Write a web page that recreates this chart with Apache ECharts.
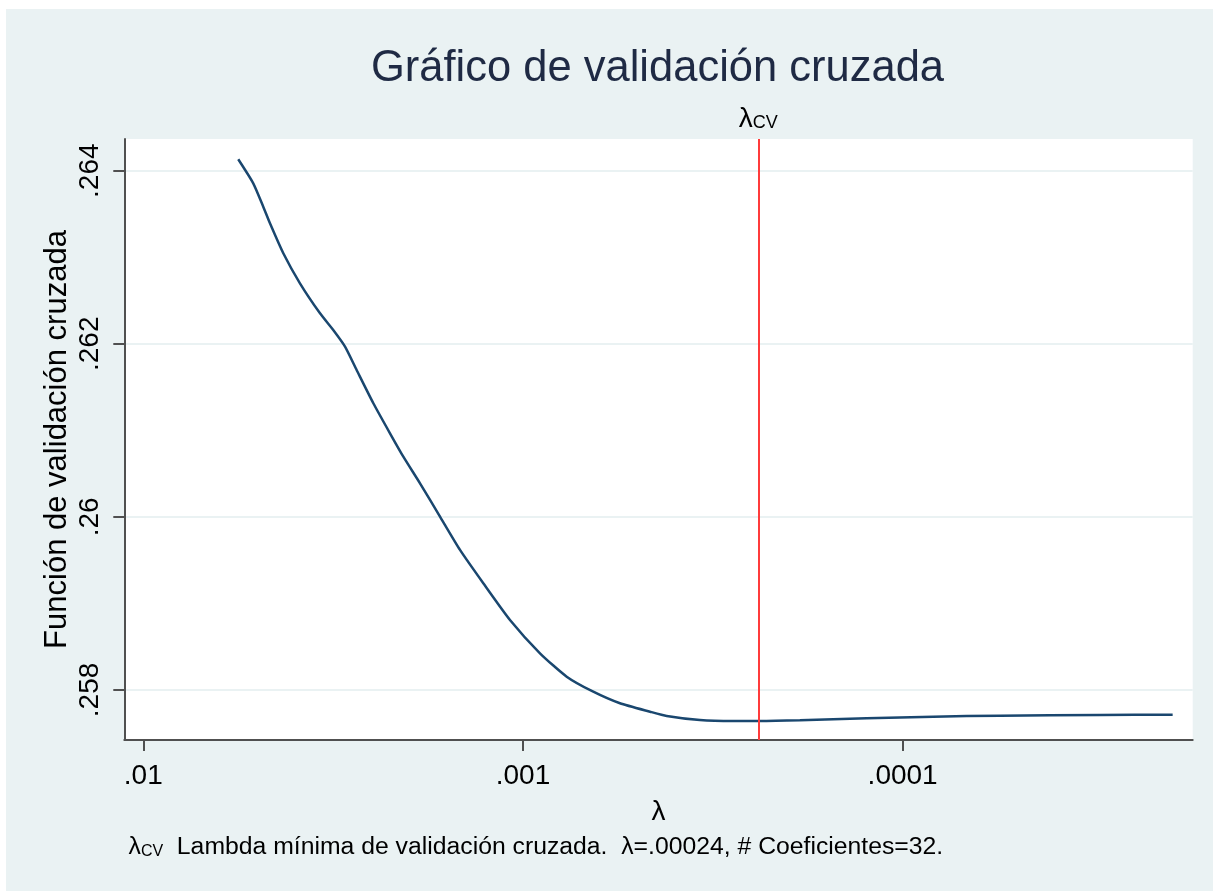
<!DOCTYPE html>
<html>
<head>
<meta charset="utf-8">
<script src="https://cdn.jsdelivr.net/npm/echarts@6/dist/echarts.min.js"></script>
<style>
  html, body { margin: 0; padding: 0; background: #ffffff; }
  #chart { position: absolute; left: 6px; top: 9px; width: 1207px; height: 882px; }
</style>
</head>
<body>
<div id="chart"></div>
<script>
// ---- data ----
const lambdas = [
  0.005622, 0.005133, 0.004831, 0.004638, 0.004278, 0.003867, 0.003424, 0.003160,
  0.002942, 0.002742, 0.002478, 0.002240, 0.002066, 0.001867, 0.001654, 0.001465,
  0.001272, 0.001082, 0.0009020, 0.0007671, 0.0006529, 0.0005553, 0.0004628, 0.0004182,
  0.0003419, 0.0002793, 0.000239, 0.0001865, 0.0001244, 0.00008305, 0.00005541, 0.00003022,
  0.00001945
];
const cvValues = [
  0.264132, 0.263854, 0.263584, 0.263392, 0.263046, 0.262699, 0.262352, 0.262159,
  0.261967, 0.261697, 0.261313, 0.260966, 0.260696, 0.260388, 0.260003, 0.259618,
  0.259233, 0.258809, 0.258424, 0.258154, 0.257980, 0.257846, 0.257749, 0.257700,
  0.257653, 0.257642, 0.257642, 0.257650, 0.257673, 0.257692, 0.257703, 0.257711,
  0.257715
];
const lambdaCV = 0.00024;
const xTickValues = [0.01, 0.001, 0.0001];
const xTickLabels = ['.01', '.001', '.0001'];
const yTickValues = [0.258, 0.26, 0.262, 0.264];
const yTickLabels = ['.258', '.26', '.262', '.264'];
const titleText = 'Gráfico de validación cruzada';
const yTitle = 'Función de validación cruzada';
const xTitle = 'λ';
const noteText = 'Lambda mínima de validación cruzada.  λ=.00024, # Coeficientes=32.';

const seriesData = lambdas.map((l, i) => [l, cvValues[i]]);
const FONT = '"Liberation Sans", Arial, sans-serif';

// plot-region layout (chart pixels)
const PLOT = { left: 118.3, top: 130, right: 20.3, bottom: 151 };
const X_MIN = 0.000017223, X_MAX = 0.01122;     // visible lambda range (reversed axis)
const CHART_W = 1207;
// pixel span per decade, so the tick axis (decades only) lines up with the data axis
const plotW = CHART_W - PLOT.left - PLOT.right;
const pxPerDec = plotW / (Math.log10(X_MAX) - Math.log10(X_MIN));
const tickMax = Math.max(...xTickValues), tickMin = Math.min(...xTickValues);
const tickLeft = PLOT.left + (Math.log10(X_MAX) - Math.log10(tickMax)) * pxPerDec;
const tickRight = PLOT.right + (Math.log10(tickMin) - Math.log10(X_MIN)) * pxPerDec;

function fmtX(v) {
  for (let i = 0; i < xTickValues.length; i++) {
    if (Math.abs(v - xTickValues[i]) / xTickValues[i] < 1e-6) return xTickLabels[i];
  }
  return '';
}
function fmtY(v) {
  for (let i = 0; i < yTickValues.length; i++) {
    if (Math.abs(v - yTickValues[i]) < 1e-9) return yTickLabels[i];
  }
  return '';
}

const chart = echarts.init(document.getElementById('chart'), null, { renderer: 'canvas' });
chart.setOption({
  backgroundColor: '#EAF2F3',
  animation: false,
  title: [
    {
      text: titleText,
      left: PLOT.left + plotW / 2 - 6,
      textAlign: 'center',
      top: 33,
      textStyle: { fontFamily: FONT, fontSize: 43.5, fontWeight: 'normal', color: '#1f2a44' }
    },
    {
      text: '{l|λ}{s|CV}{t|  ' + noteText + '}',
      left: 117.5,
      top: 821,
      textStyle: {
        fontFamily: FONT,
        fontWeight: 'normal',
        rich: {
          l: { fontFamily: FONT, fontSize: 24.75, fontWeight: 'normal', color: '#000' },
          s: { fontFamily: FONT, fontSize: 16, fontWeight: 'normal', color: '#000', padding: [8, 0, 0, 0] },
          t: { fontFamily: FONT, fontSize: 24.75, fontWeight: 'normal', color: '#000' }
        }
      }
    }
  ],
  grid: [
    { left: PLOT.left, top: PLOT.top, right: PLOT.right, bottom: PLOT.bottom, containLabel: false, show: true, backgroundColor: '#ffffff', borderWidth: 0 },
    { left: tickLeft, top: PLOT.top, right: tickRight, bottom: PLOT.bottom, containLabel: false, show: false }
  ],
  xAxis: [
    {
      gridIndex: 0,
      type: 'log',
      logBase: 10,
      inverse: true,
      min: X_MIN,
      max: X_MAX,
      name: xTitle,
      nameLocation: 'middle',
      nameGap: 58,
      nameMoveOverlap: false,
      nameTextStyle: { fontFamily: FONT, fontSize: 28, color: '#000' },
      axisLine: { show: true, lineStyle: { color: '#505050', width: 2 } },
      axisTick: { show: false },
      axisLabel: { show: false },
      splitLine: { show: false },
      minorTick: { show: false }
    },
    {
      gridIndex: 1,
      type: 'log',
      logBase: 10,
      inverse: true,
      min: tickMin,
      max: tickMax,
      axisLine: { show: false },
      axisTick: { show: true, length: 11, lineStyle: { color: '#505050', width: 2 } },
      axisLabel: { fontFamily: FONT, fontSize: 28, color: '#000', margin: 22, formatter: fmtX },
      splitLine: { show: false },
      minorTick: { show: false }
    }
  ],
  yAxis: [
    {
      gridIndex: 0,
      type: 'value',
      min: 0.257422,
      max: 0.264366,
      name: yTitle,
      nameLocation: 'middle',
      nameRotate: 90,
      nameGap: 51,
      nameMoveOverlap: false,
      nameTextStyle: { fontFamily: FONT, fontSize: 31, color: '#000' },
      axisLine: { show: true, lineStyle: { color: '#505050', width: 2 } },
      axisTick: { show: true, length: 11, lineStyle: { color: '#505050', width: 2 }, customValues: yTickValues },
      axisLabel: { fontFamily: FONT, fontSize: 28, color: '#000', margin: 20, rotate: 90, formatter: fmtY, customValues: yTickValues },
      splitLine: { show: true, lineStyle: { color: '#EAF2F3', width: 2 } }
    },
    {
      gridIndex: 1,
      type: 'value',
      show: false
    }
  ],
  series: [
    {
      type: 'line',
      xAxisIndex: 0,
      yAxisIndex: 0,
      data: seriesData,
      showSymbol: false,
      symbol: 'none',
      smooth: 0.2,
      lineStyle: { color: '#1A476F', width: 2.5 },
      markLine: {
        silent: true,
        precision: 8,
        symbol: ['none', 'none'],
        lineStyle: { color: '#FF3B3B', width: 2, type: 'solid' },
        label: {
          show: true,
          position: 'end',
          distance: 6,
          formatter: '{l|λ}{s|CV}',
          rich: {
            l: { fontFamily: FONT, fontSize: 28, color: '#000' },
            s: { fontFamily: FONT, fontSize: 18, color: '#000', padding: [9, 0, 0, 0] }
          }
        },
        data: [{ xAxis: lambdaCV }]
      }
    }
  ]
});
</script>
</body>
</html>
